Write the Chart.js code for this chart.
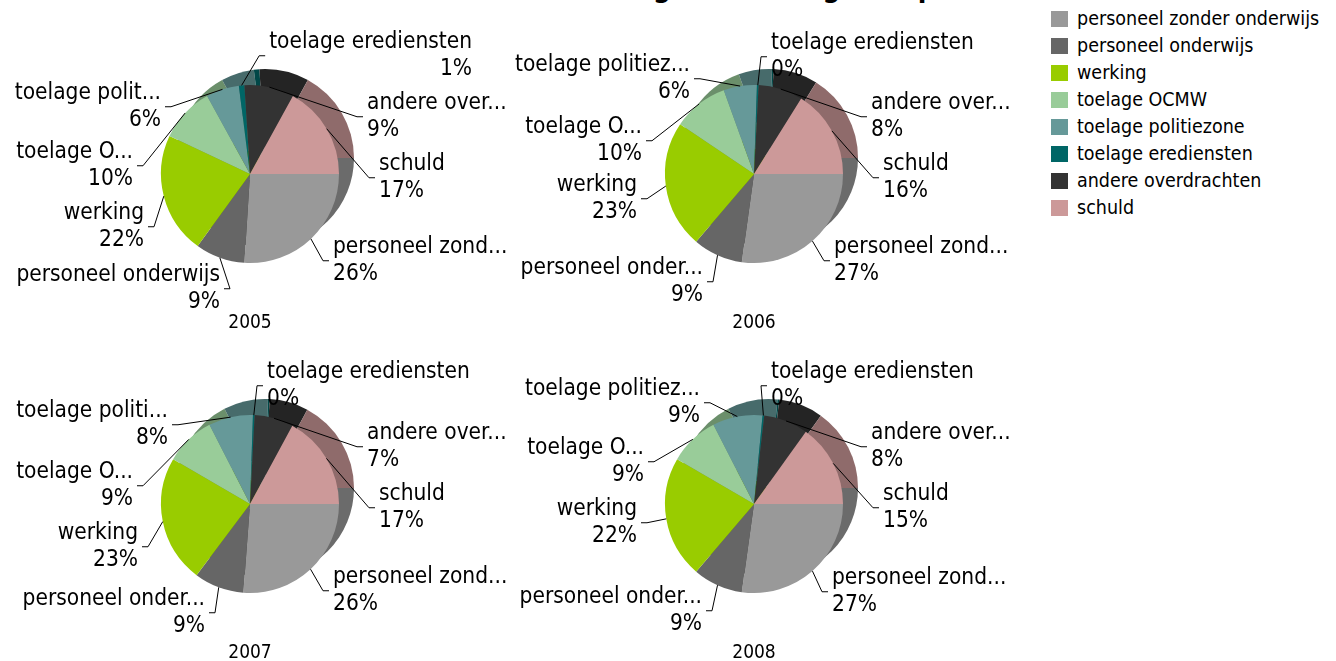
<!DOCTYPE html>
<html>
<head>
<meta charset="utf-8">
<script src="https://cdn.jsdelivr.net/npm/chart.js@4.4.0/dist/chart.umd.min.js"></script>
<style>
body{margin:0;background:#fff;width:1336px;height:661px;overflow:hidden;position:relative;font-family:'DejaVu Sans Condensed','DejaVu Sans',sans-serif}
canvas.taart{position:absolute;left:0;top:0}
#titel{position:absolute;white-space:nowrap;font-weight:bold;font-size:28px;line-height:28px;top:-26px;color:#000}
#legende{position:absolute;left:1051px;top:5px}
.rij{height:27px;display:flex;align-items:center;font-size:19.5px;color:#000;white-space:nowrap}
.blok{width:17px;height:16px;margin-right:9px}
</style>
</head>
<body>
<div id="titel"></div>
<div id="legende"></div>
<canvas class="taart" id="c2005" width="1336" height="661"></canvas>
<canvas class="taart" id="c2006" width="1336" height="661"></canvas>
<canvas class="taart" id="c2007" width="1336" height="661"></canvas>
<canvas class="taart" id="c2008" width="1336" height="661"></canvas>
<script>
const titelTekst = 'Verdeling van de uitgaven per soort'
const categorieen = ['personeel zonder onderwijs','personeel onderwijs','werking','toelage OCMW','toelage politiezone','toelage erediensten','andere overdrachten','schuld']
const jaren = ['2005','2006','2007','2008']

// aandeel per categorie (%), erediensten 2006-2008 afgerond 0%
const waarden2005 = [26, 9, 22, 10, 6, 1, 9, 17]
const waarden2006 = [27, 9, 23, 10, 6, 0.3, 8, 16]
const waarden2007 = [26, 9, 23, 9, 8, 0.3, 7, 17]
const waarden2008 = [27, 9, 22, 9, 9, 0.3, 8, 15]

// ingekorte namen zoals in de etiketten
const namen2005 = ['personeel zond...','personeel onderwijs','werking','toelage O...','toelage polit...','toelage erediensten','andere over...','schuld']
const namen2006 = ['personeel zond...','personeel onder...','werking','toelage O...','toelage politiez...','toelage erediensten','andere over...','schuld']
const namen2007 = ['personeel zond...','personeel onder...','werking','toelage O...','toelage politi...','toelage erediensten','andere over...','schuld']
const namen2008 = ['personeel zond...','personeel onder...','werking','toelage O...','toelage politiez...','toelage erediensten','andere over...','schuld']

const kleuren = ['#999999','#666666','#99cc00','#99cc99','#669999','#006666','#333333','#cc9999']

// plaats van de etiketten t.o.v. het middelpunt: [uitlijning, dx, dy eerste regel]
const plaats2005 = [['L',83,73],['R',-30,101],['R',-106,39],['R',-117,-22],['R',-89,-81],['R',222,-132],['L',117,-71],['L',129,-10]]
const plaats2006 = [['L',80,73],['R',-51,94],['R',-117,11],['R',-112,-47],['R',-64,-109],['L',17,-131],['L',117,-71],['L',129,-10]]
const plaats2007 = [['L',83,73],['R',-45,95],['R',-112,29],['R',-117,-32],['R',-82,-93],['L',17,-132],['L',117,-71],['L',129,-10]]
const plaats2008 = [['L',78,74],['R',-52,93],['R',-117,5],['R',-110,-56],['R',-54,-115],['L',17,-132],['L',117,-71],['L',129,-10]]

const W = 1336, H = 661
const straal = 89
const centra = [[250,174],[754,174],[250,504],[754,504]]
const schaduw = {dx: 15, dy: -16}
const regelafstand = 27.5
const lettertype = "'DejaVu Sans Condensed', 'DejaVu Sans', sans-serif"

function donkerder(hex, f) {
  const n = parseInt(hex.slice(1), 16)
  const r = Math.round(((n >> 16) & 255) * f)
  const g = Math.round(((n >> 8) & 255) * f)
  const b = Math.round((n & 255) * f)
  return `rgb(${r},${g},${b})`
}

// titel: alleen de onderkant valt binnen beeld
const titel = document.getElementById('titel')
titel.textContent = titelTekst
const meet = document.createElement('canvas').getContext('2d')
meet.font = `bold 28px ${lettertype}`
titel.style.left = (653 - meet.measureText('Verdelin').width) + 'px'

// legende
const legende = document.getElementById('legende')
categorieen.forEach((naam, i) => {
  const rij = document.createElement('div')
  rij.className = 'rij'
  rij.innerHTML = `<span class="blok" style="background:${kleuren[i]}"></span>${naam}`
  legende.appendChild(rij)
})

// donkere verschoven kopie achter de taart (3D-rand)
const rand3d = {
  id: 'rand3d',
  beforeDatasetsDraw(chart) {
    const ctx = chart.ctx
    ctx.save()
    chart.getDatasetMeta(0).data.forEach((arc, i) => {
      const p = arc.getProps(['x','y','startAngle','endAngle','outerRadius'], true)
      const x = p.x + schaduw.dx, y = p.y + schaduw.dy
      ctx.beginPath()
      ctx.moveTo(x, y)
      ctx.arc(x, y, p.outerRadius, p.startAngle, p.endAngle)
      ctx.closePath()
      ctx.fillStyle = donkerder(kleuren[i], 0.7)
      ctx.fill()
    })
    ctx.restore()
  }
}

const etiketten = {
  id: 'etiketten',
  afterDatasetsDraw(chart, args, opts) {
    const ctx = chart.ctx
    const data = chart.data.datasets[0].data
    const totaal = data.reduce((a, b) => a + b, 0)
    let mx = 0, my = 0
    ctx.save()
    ctx.font = `22.5px ${lettertype}`
    ctx.textBaseline = 'middle'
    ctx.fillStyle = '#000'
    ctx.strokeStyle = '#000'
    ctx.lineWidth = 1
    chart.getDatasetMeta(0).data.forEach((arc, i) => {
      const p = arc.getProps(['x','y','startAngle','endAngle','outerRadius'], true)
      mx = p.x; my = p.y
      const mid = (p.startAngle + p.endAngle) / 2
      const ex = p.x + Math.cos(mid) * p.outerRadius
      const ey = p.y + Math.sin(mid) * p.outerRadius
      const [uitlijning, dx, dy] = opts.plaats[i]
      const regels = [opts.namen[i], Math.round(data[i] / totaal * 100) + '%']
      const breedte = Math.max(...regels.map(t => ctx.measureText(t).width))
      const ankerX = p.x + dx, y1 = p.y + dy
      const links = uitlijning === 'L' ? ankerX : ankerX - breedte
      const rechts = links + breedte
      const midY = y1 + regelafstand / 2
      let hx, kx
      if ((links + rechts) / 2 < p.x) { hx = rechts + 4; kx = rechts + 10 }
      else { hx = links - 4; kx = links - 10 }
      ctx.beginPath()
      ctx.moveTo(ex, ey)
      ctx.lineTo(kx, midY)
      ctx.lineTo(hx, midY)
      ctx.stroke()
      ctx.textAlign = uitlijning === 'L' ? 'left' : 'right'
      regels.forEach((t, r) => ctx.fillText(t, ankerX, y1 + r * regelafstand))
    })
    ctx.font = `19px ${lettertype}`
    ctx.textAlign = 'center'
    ctx.fillText(opts.jaar, mx, my + straal + 60)
    ctx.restore()
  }
}

const reeksen = [waarden2005, waarden2006, waarden2007, waarden2008]
const namen = [namen2005, namen2006, namen2007, namen2008]
const plaatsen = [plaats2005, plaats2006, plaats2007, plaats2008]

jaren.forEach((jaar, k) => {
  const [cx, cy] = centra[k]
  new Chart(document.getElementById('c' + jaar), {
    type: 'pie',
    data: {
      labels: categorieen,
      datasets: [{ data: reeksen[k], backgroundColor: kleuren, borderWidth: 0, hoverOffset: 0, offset: 0 }]
    },
    options: {
      responsive: false,
      animation: false,
      events: [],
      rotation: 90,
      layout: { padding: { left: cx - straal, right: W - cx - straal, top: cy - straal, bottom: H - cy - straal } },
      plugins: {
        legend: { display: false },
        tooltip: { enabled: false },
        etiketten: { plaats: plaatsen[k], namen: namen[k], jaar: jaar }
      }
    },
    plugins: [rand3d, etiketten]
  })
})
</script>
</body>
</html>
